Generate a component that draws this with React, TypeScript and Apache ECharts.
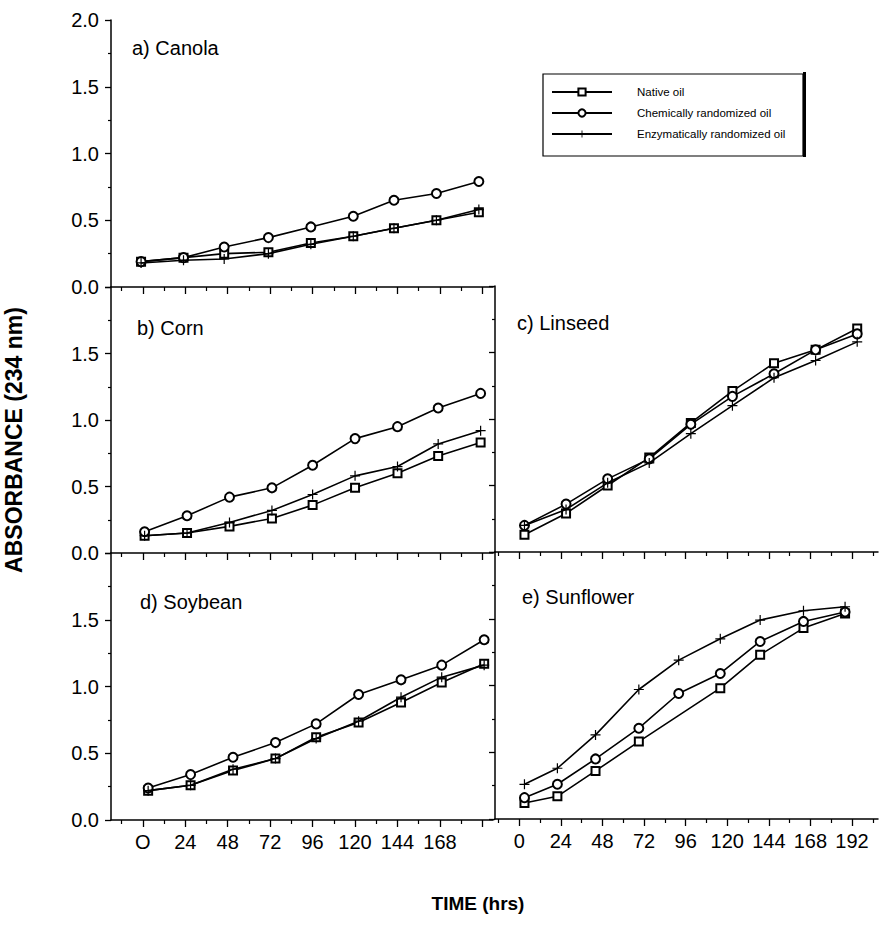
import React, { useEffect, useRef } from "react";
import * as echarts from "echarts";

// ---- Data ----
const seriesNames = ["Native oil", "Chemically randomized oil", "Enzymatically randomized oil"];
const panelTitles = ["a) Canola", "b) Corn", "c) Linseed", "d) Soybean", "e) Sunflower"];

const canolaTimes = [-1, 23, 46, 71, 95, 119, 142, 166, 190];
const canolaNative = [0.19, 0.22, 0.25, 0.26, 0.33, 0.38, 0.44, 0.5, 0.56];
const canolaChem = [0.19, 0.22, 0.3, 0.37, 0.45, 0.53, 0.65, 0.7, 0.79];
const canolaEnz = [0.18, 0.2, 0.21, 0.25, 0.32, 0.38, 0.44, 0.5, 0.58];

const cornTimes = [1, 25, 49, 73, 96, 120, 144, 167, 191];
const cornNative = [0.13, 0.15, 0.2, 0.26, 0.36, 0.49, 0.6, 0.73, 0.83];
const cornChem = [0.16, 0.28, 0.42, 0.49, 0.66, 0.86, 0.95, 1.09, 1.2];
const cornEnz = [0.13, 0.15, 0.23, 0.32, 0.44, 0.58, 0.65, 0.82, 0.92];

const linseedTimes = [3, 27, 51, 75, 99, 123, 147, 171, 195];
const linseedNative = [0.13, 0.29, 0.5, 0.71, 0.97, 1.21, 1.42, 1.52, 1.68];
const linseedChem = [0.2, 0.36, 0.55, 0.7, 0.96, 1.17, 1.34, 1.52, 1.64];
const linseedEnz = [0.2, 0.32, 0.52, 0.67, 0.89, 1.1, 1.31, 1.44, 1.58];

const soyTimes = [3, 27, 51, 75, 98, 122, 146, 169, 193];
const soyNative = [0.22, 0.26, 0.37, 0.46, 0.62, 0.73, 0.88, 1.03, 1.17];
const soyChem = [0.24, 0.34, 0.47, 0.58, 0.72, 0.94, 1.05, 1.16, 1.35];
const soyEnz = [0.22, 0.26, 0.38, 0.46, 0.61, 0.74, 0.92, 1.07, 1.16];

const sunTimes = [3, 22, 44, 69, 92, 116, 139, 164, 188];
const sunNative = [0.12, 0.17, 0.36, 0.58, null, 0.98, 1.23, 1.43, 1.54];
const sunChem = [0.16, 0.26, 0.45, 0.68, 0.94, 1.09, 1.33, 1.48, 1.55];
const sunEnz = [0.26, 0.38, 0.63, 0.97, 1.19, 1.35, 1.49, 1.56, 1.59];

const majorTicks = [0, 24, 48, 72, 96, 120, 144, 168, 192];
const minorTicksLeft = [-12, 12, 36, 60, 84, 108, 132, 156, 180];
const minorTicksRight = [-12, 12, 36, 60, 84, 108, 132, 156, 180, 204];
const leftTickLabels = ["O", "24", "48", "72", "96", "120", "144", "168"];
const rightTickLabels = ["0", "24", "48", "72", "96", "120", "144", "168", "192"];

const panelData = [
  { times: canolaTimes, vals: [canolaNative, canolaChem, canolaEnz] },
  { times: cornTimes, vals: [cornNative, cornChem, cornEnz] },
  { times: linseedTimes, vals: [linseedNative, linseedChem, linseedEnz] },
  { times: soyTimes, vals: [soyNative, soyChem, soyEnz] },
  { times: sunTimes, vals: [sunNative, sunChem, sunEnz] },
];

// ---- Layout ----
const FONT = "Liberation Sans, Arial, Helvetica, sans-serif";
const grids = [
  { left: 111, top: 20, width: 382, height: 267, col: "L", yLabels: "all", xLabels: false, title: [132, 48] },
  { left: 111, top: 287, width: 382, height: 266, col: "L", yLabels: "noTop", xLabels: false, title: [137, 328] },
  { left: 495, top: 286, width: 383, height: 266, col: "R", yLabels: "none", xLabels: false, title: [517, 323] },
  { left: 111, top: 553, width: 382, height: 267, col: "L", yLabels: "noTop", xLabels: true, title: [140, 602] },
  { left: 495, top: 552, width: 383, height: 267, col: "R", yLabels: "none", xLabels: true, title: [522, 597] },
];

const plusPath = "path://M4.4,0h1.2v4.4h4.4v1.2h-4.4v4.4h-1.2v-4.4h-4.4v-1.2h4.4z";
const symbols = ["emptyRect", "emptyCircle", plusPath];
const symbolSizes = [8, 9, 10];

function buildOption() {
  const axisLine = { show: true, onZero: false, lineStyle: { color: "#000", width: 1.5 } };
  const xAxis: any[] = [];
  const yAxis: any[] = [];
  const series: any[] = [];

  grids.forEach((g, i) => {
    const isL = g.col === "L";
    const min = isL ? -18 : -14;
    const max = isL ? 198 : 207;
    const labelVals = isL ? majorTicks.slice(0, 8) : majorTicks;
    const labelTexts = isL ? leftTickLabels : rightTickLabels;
    xAxis.push({
      type: "value",
      gridIndex: i,
      min,
      max,
      position: "bottom",
      axisLine,
      axisTick: { show: true, length: 7, customValues: majorTicks, lineStyle: { color: "#000", width: 1.3 } },
      axisLabel: {
        show: g.xLabels,
        customValues: labelVals,
        formatter: (v: number) => {
          const k = labelVals.indexOf(v);
          return k >= 0 ? labelTexts[k] : "";
        },
        margin: 12,
        fontSize: 20,
        color: "#000",
        fontFamily: FONT,
      },
      splitLine: { show: false },
    });
    xAxis.push({
      type: "value",
      gridIndex: i,
      min,
      max,
      position: "bottom",
      offset: 0,
      axisLine: { show: false },
      axisTick: { show: true, length: 4, customValues: isL ? minorTicksLeft : minorTicksRight, lineStyle: { color: "#000", width: 1.2 } },
      axisLabel: { show: false },
      splitLine: { show: false },
    });
    yAxis.push({
      type: "value",
      gridIndex: i,
      min: 0,
      max: 2,
      interval: 0.5,
      position: "left",
      axisLine,
      axisTick: { show: true, length: 6, lineStyle: { color: "#000", width: 1.3 } },
      minorTick: { show: true, splitNumber: 2, length: 3, lineStyle: { color: "#000", width: 1.2 } },
      axisLabel: {
        show: g.yLabels !== "none",
        formatter: (v: number) => (v === 2 && g.yLabels === "noTop" ? "" : v.toFixed(1)),
        margin: 12,
        fontSize: 20,
        color: "#000",
        fontFamily: FONT,
      },
      splitLine: { show: false },
      minorSplitLine: { show: false },
    });

    const pd = panelData[i];
    pd.vals.forEach((vals, s) => {
      const data: any[] = [];
      vals.forEach((v, k) => {
        if (v !== null) data.push([pd.times[k], v]);
      });
      series.push({
        type: "line",
        name: seriesNames[s],
        xAxisIndex: 2 * i,
        yAxisIndex: i,
        data,
        symbol: symbols[s],
        symbolSize: symbolSizes[s],
        showAllSymbol: true,
        lineStyle: { color: "#000", width: 1.6 },
        itemStyle: { color: "#000", borderWidth: s === 2 ? 0 : 1.4 },
        z: 2 + s,
      });
    });
  });

  const graphic: any[] = [
    {
      type: "rect",
      z: 1,
      shape: { x: 543, y: 74, width: 260, height: 82 },
      style: { fill: "#fff", stroke: "#000", lineWidth: 1.2 },
    },
    {
      type: "line",
      z: 1,
      shape: { x1: 804.5, y1: 72, x2: 804.5, y2: 157 },
      style: { stroke: "#000", lineWidth: 3 },
    },
    {
      type: "text",
      x: 14,
      y: 440,
      rotation: Math.PI / 2,
      style: {
        text: "ABSORBANCE (234 nm)",
        fontSize: 23,
        fontWeight: "bold",
        fontFamily: FONT,
        fill: "#000",
        align: "center",
        verticalAlign: "middle",
      },
    },
    {
      type: "text",
      x: 478,
      y: 903,
      style: {
        text: "TIME (hrs)",
        fontSize: 19,
        fontWeight: "bold",
        fontFamily: FONT,
        fill: "#000",
        align: "center",
        verticalAlign: "middle",
      },
    },
  ];
  grids.forEach((g, i) => {
    graphic.push({
      type: "text",
      x: g.title[0],
      y: g.title[1],
      style: {
        text: panelTitles[i],
        fontSize: 20,
        fontFamily: FONT,
        fill: "#000",
        align: "left",
        verticalAlign: "middle",
      },
    });
  });

  return {
    animation: false,
    backgroundColor: "#fff",
    grid: grids.map((g) => ({ left: g.left, top: g.top, width: g.width, height: g.height, containLabel: false })),
    xAxis,
    yAxis,
    series,
    legend: {
      data: seriesNames,
      orient: "vertical",
      left: 546,
      top: 81,
      itemWidth: 60,
      itemHeight: 9,
      itemGap: 9,
      z: 10,
      textStyle: { fontSize: 11.5, fontFamily: FONT, color: "#000", padding: [0, 0, 0, 20] },
      selectedMode: false,
    },
    graphic,
  };
}

export default function App() {
  const ref = useRef<HTMLDivElement>(null);
  useEffect(() => {
    if (!ref.current) return;
    const chart = echarts.init(ref.current, null, { renderer: "svg" });
    chart.setOption(buildOption());
    return () => chart.dispose();
  }, []);
  return <div ref={ref} style={{ position: "absolute", left: 0, top: 0, width: 879, height: 925 }} />;
}
